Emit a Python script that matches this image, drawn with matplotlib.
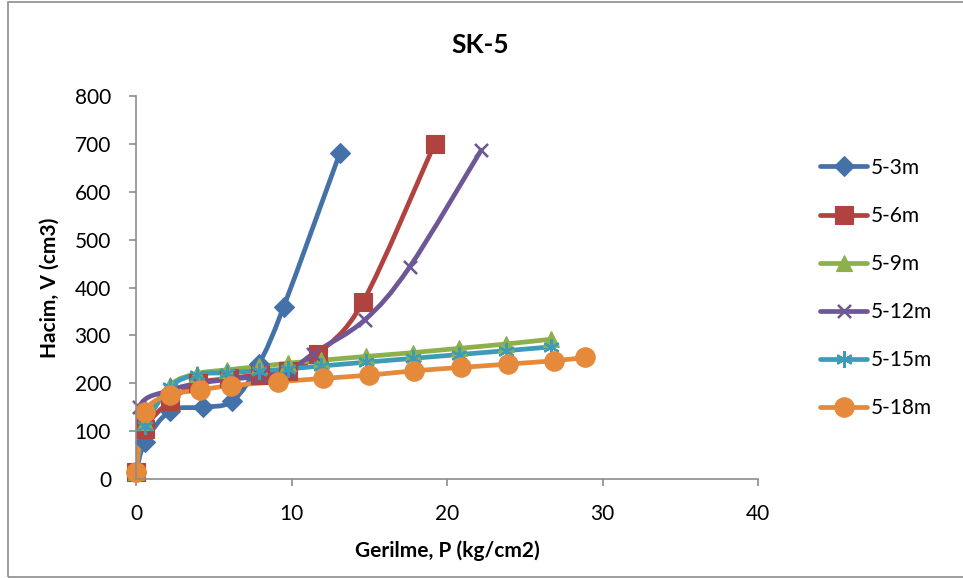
import numpy as np
import matplotlib.pyplot as plt
from matplotlib.path import Path
from matplotlib.patches import PathPatch, Rectangle
from matplotlib.lines import Line2D

plt.rcParams['font.family'] = ['Lato', 'DejaVu Sans']

# data
labels = ["5-3m", "5-6m", "5-9m", "5-12m", "5-15m", "5-18m"]

p_3 = [0, 0.6, 2.2, 4.3, 6.2, 7.9, 9.5, 13.1]
v_3 = [15, 78, 142, 150, 163, 240, 360, 680]

p_6 = [0, 0.6, 2.2, 4.0, 6.0, 8.0, 9.8, 11.7, 14.6, 19.2]
v_6 = [15, 105, 163, 200, 210, 218, 225, 262, 370, 700]

p_9 = [0, 0.6, 2.2, 3.9, 5.85, 7.9, 9.8, 11.9, 14.8, 17.8, 20.8, 23.8, 26.7]
v_9 = [15, 120, 196, 220, 228, 235, 242, 248, 256, 264, 273, 282, 292]

p_12 = [0, 0.2, 2.2, 4.0, 6.0, 8.0, 9.8, 11.4, 14.7, 17.6, 22.2]
v_12 = [15, 150, 185, 200, 208, 215, 225, 262, 332, 443, 687]

p_15 = [0, 0.6, 2.2, 3.9, 5.85, 7.9, 9.8, 11.9, 14.8, 17.8, 20.8, 23.8, 26.7]
v_15 = [15, 110, 192, 218, 222, 226, 230, 236, 244, 252, 260, 268, 276]

p_18 = [0, 0.6, 2.2, 4.1, 6.1, 9.1, 12.0, 15.0, 17.9, 20.9, 23.9, 26.9, 28.9]
v_18 = [15, 140, 175, 186, 195, 203, 210, 217, 226, 233, 240, 247, 254]

series = [(p_3, v_3), (p_6, v_6), (p_9, v_9), (p_12, v_12), (p_15, v_15), (p_18, v_18)]
colors = ["#4472A8", "#B0433F", "#8DB04D", "#6E5797", "#3C9CB8", "#E5893B"]
markers = ["D", "s", "^", (4, 2, 45), (6, 2, 0), "o"]
msizes = [10.5, 13, 12, 13, 12, 14]


def smooth_path(x, y):
    # excel-like smoothed line: cubic bezier through the points
    pts = np.column_stack([x, y]).astype(float)
    n = len(pts)
    verts = [pts[0]]
    codes = [Path.MOVETO]
    for i in range(n - 1):
        p0 = pts[i - 1] if i > 0 else pts[i]
        p1 = pts[i]
        p2 = pts[i + 1]
        p3 = pts[i + 2] if i + 2 < n else pts[i + 1]
        c1 = p1 + (p2 - p0) / 6
        c2 = p2 - (p3 - p1) / 6
        verts += [c1, c2, p2]
        codes += [Path.CURVE4] * 3
    return Path(verts, codes)


fig = plt.figure(figsize=(9.63, 5.78), dpi=100)
ax = fig.add_axes([136 / 963, 1 - 479 / 578, (758 - 136) / 963, (479 - 96) / 578])

# outer chart border
fig.patches.append(Rectangle((8 / 963, 1 / 578), 1.2, 1 - 3 / 578, transform=fig.transFigure,
                             fill=False, edgecolor="#8c8c8c", linewidth=1.2, zorder=0))

handles = []
for (px, vy), c, m, ms, lab in zip(series, colors, markers, msizes, labels):
    ax.add_patch(PathPatch(smooth_path(px, vy), fill=False, edgecolor=c, linewidth=3.4,
                           capstyle="round", joinstyle="round"))
    mew = 1.6 if isinstance(m, tuple) else 0.8
    ax.plot(px, vy, linestyle="none", marker=m, markersize=ms, color=c,
            markeredgecolor=c, mew=mew, clip_on=False)
    handles.append(Line2D([], [], color=c, linewidth=3.4, marker=m, markersize=ms,
                          markeredgecolor=c, mew=mew, solid_capstyle="round", label=lab))

ax.set_xlim(0, 40)
ax.set_ylim(0, 800)
ax.set_xticks([0, 10, 20, 30, 40])
ax.set_yticks(np.arange(0, 801, 100))

for s in ["top", "right"]:
    ax.spines[s].set_visible(False)
for s in ["left", "bottom"]:
    ax.spines[s].set_color("#8c8c8c")
    ax.spines[s].set_linewidth(1.2)
ax.tick_params(direction="out", length=5, width=1.2, color="#8c8c8c",
               labelsize=15, labelcolor="black")
ax.tick_params(axis="x", pad=13)
ax.tick_params(axis="y", pad=13)

ax.set_xlabel("Gerilme, P (kg/cm2)", fontsize=15, fontweight="bold", labelpad=12)
ax.set_ylabel("Hacim, V (cm3)", fontsize=15, fontweight="bold", labelpad=11)
fig.text(480 / 963, 1 - 45 / 578, "SK-5", fontsize=19, fontweight="bold", ha="center", va="center")

fig.legend(handles=handles, loc="center left", bbox_to_anchor=(810 / 963, 1 - 288 / 578),
           frameon=False, fontsize=15, handlelength=2.25, handletextpad=0.15,
           labelspacing=1.35, borderpad=0)

fig.savefig("out.png", dpi=100)
